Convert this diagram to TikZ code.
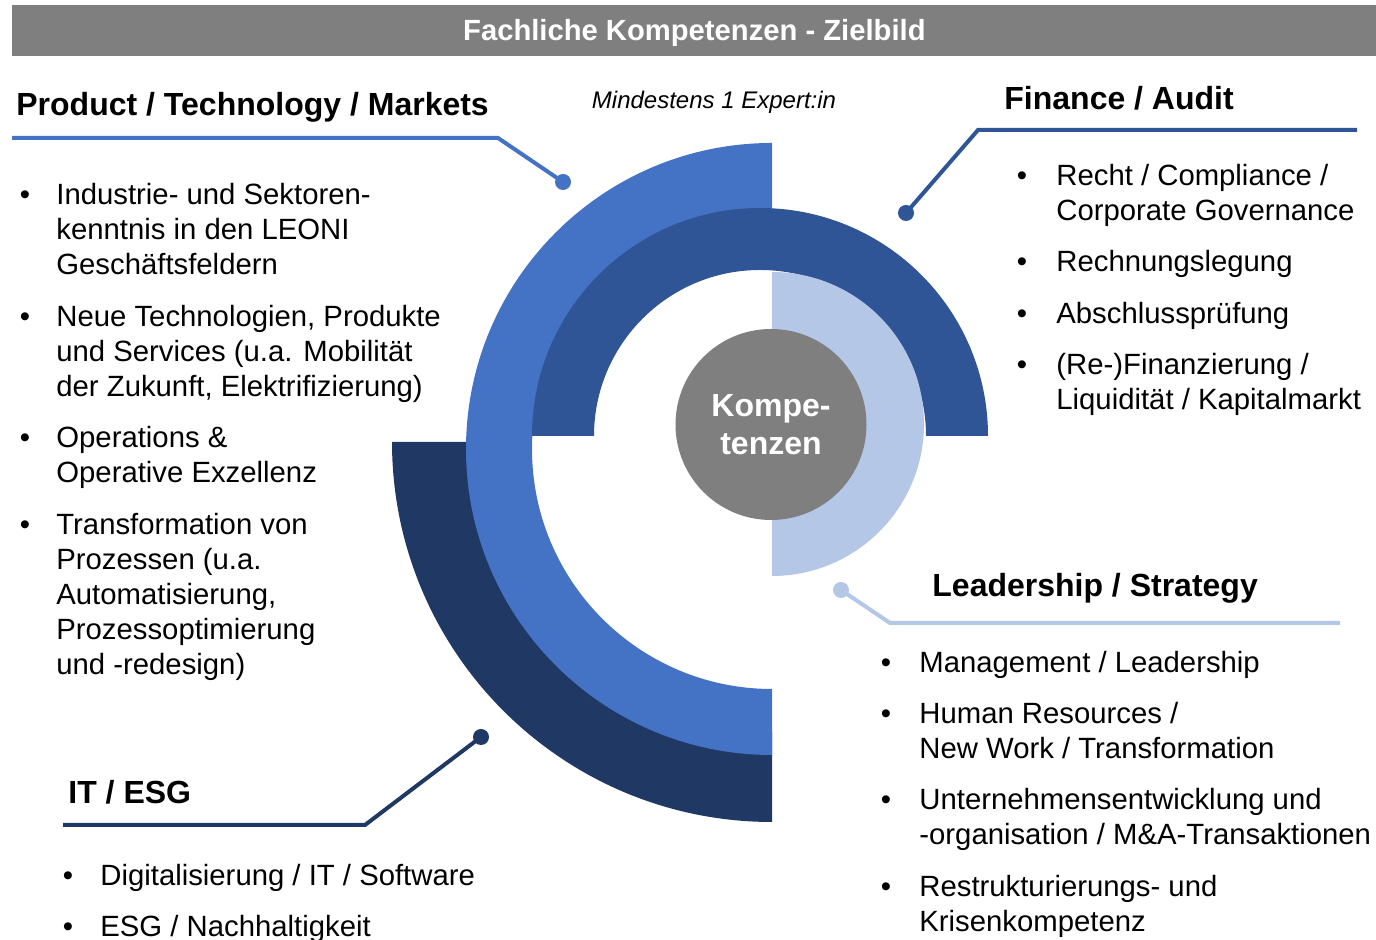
\documentclass[tikz,border=0pt]{standalone}
\usepackage{fontspec}
\setmainfont{Liberation Sans}

\definecolor{ptmblue}{HTML}{4472C4}
\definecolor{finblue}{HTML}{2F5597}
\definecolor{leadblue}{HTML}{B4C7E7}
\definecolor{itblue}{HTML}{203864}
\definecolor{bargrey}{HTML}{7F7F7F}

\tikzset{
	heading/.style={anchor=base west, inner sep=0pt, font=\fontsize{16}{19}\selectfont\bfseries},
	% multi-line items sit on the baseline of their last line
	item/.style={anchor=base west, inner sep=0pt, align=left, font=\fontsize{14.65}{17.5}\selectfont},
	bul/.style={anchor=base, inner sep=0pt, font=\fontsize{14.65}{17.5}\selectfont},
	leader/.style={line width=2pt},
	pin/.style={circle, fill, inner sep=0pt, minimum size=8pt}
}

\begin{document}
\begin{tikzpicture}[x=0.5pt, y=0.5pt]
		\useasboundingbox (0,0) rectangle (1376,940);
		
		% Title bar
		\node[fill=bargrey, anchor=south west, inner sep=0pt, minimum width=682pt, minimum height=25.5pt,
			text depth=0pt, text=white, font=\fontsize{14.6}{17}\selectfont\bfseries] (title) at (12,884) {Fachliche Kompetenzen - Zielbild};
		\node[anchor=base, font=\fontsize{12}{14}\selectfont\itshape] (min) at (714,831) {Mindestens 1 Expert:in};
		
		% Rings
		\fill[itblue] (772,498) ++(180:380) arc[start angle=180, end angle=270, radius=380]
			-- ++(0,90) arc[start angle=270, end angle=180, radius=290] -- cycle;
		\fill[ptmblue] (772,491) ++(90:306) arc[start angle=90, end angle=270, radius=306]
			-- ++(0,66) arc[start angle=270, end angle=90, radius=240] -- cycle;
		\fill[finblue] (760,504) ++(0:228) arc[start angle=0, end angle=180, radius=228]
			-- ++(62,0) arc[start angle=180, end angle=0, radius=166] -- cycle;
		\fill[leadblue] (772,516) ++(90:152) arc[start angle=90, end angle=-90, radius=152] -- cycle;
		\node[circle, fill=bargrey, minimum size=95.5pt, inner sep=0pt, align=center, text=white,
			font=\fontsize{16}{19}\selectfont\bfseries] (core) at (771,515.5) {Kompe-\\tenzen};
		
		% Product / Technology / Markets
		\node[heading] (ptm) at (16,824) {Product / Technology / Markets};
		\node[pin, ptmblue] (ptmdot) at (563,758) {};
		\coordinate (ptmk) at (498,802);
		\coordinate (ptme) at (12,802);
		\draw[leader, ptmblue] (ptmdot.center) -- (ptmk) -- (ptme);
		\node[bul] (b1) at (25,735) {•};
		\node[item] (p1) at (56,665) {Industrie- und Sektoren-\\kenntnis in den LEONI\\Geschäftsfeldern};
		\node[bul] (b2) at (25,613) {•};
		\node[item] (p2) at (56,543) {Neue Technologien, Produkte\\und Services (u.a. Mobilität\\der Zukunft, Elektrifizierung)};
		\node[bul] (b3) at (25,492) {•};
		\node[item] (p3) at (56,457) {Operations \&\\Operative Exzellenz};
		\node[bul] (b4) at (25,405) {•};
		\node[item] (p4) at (56,265) {Transformation von\\Prozessen (u.a.\\Automatisierung,\\Prozessoptimierung\\und -redesign)};
		
		% Finance / Audit
		\node[heading] (fin) at (1004,830) {Finance / Audit};
		\node[pin, finblue] (findot) at (906,727) {};
		\coordinate (fink) at (978,810);
		\coordinate (fine) at (1357,810);
		\draw[leader, finblue] (findot.center) -- (fink) -- (fine);
		\node[bul] (b5) at (1022,754) {•};
		\node[item] (f1) at (1056,719) {Recht / Compliance /\\Corporate Governance};
		\node[bul] (b6) at (1022,668) {•};
		\node[item] (f2) at (1056,668) {Rechnungslegung};
		\node[bul] (b7) at (1022,616) {•};
		\node[item] (f3) at (1056,616) {Abschlussprüfung};
		\node[bul] (b8) at (1022,565) {•};
		\node[item] (f4) at (1056,530) {(Re-)Finanzierung /\\Liquidität / Kapitalmarkt};
		
		% Leadership / Strategy
		\node[heading] (lead) at (932,343) {Leadership / Strategy};
		\node[pin, leadblue] (leaddot) at (841,350) {};
		\coordinate (leadk) at (890,317);
		\coordinate (leade) at (1340,317);
		\draw[leader, leadblue] (leaddot.center) -- (leadk) -- (leade);
		\node[bul] (b9) at (886,267) {•};
		\node[item] (l1) at (919,267) {Management / Leadership};
		\node[bul] (b10) at (886,216) {•};
		\node[item] (l2) at (919,181) {Human Resources /\\New Work / Transformation};
		\node[bul] (b11) at (886,130) {•};
		\node[item] (l3) at (919,95) {Unternehmensentwicklung und\\-organisation / M\&A-Transaktionen};
		\node[bul] (b12) at (886,43) {•};
		\node[item] (l4) at (919,8) {Restrukturierungs- und\\Krisenkompetenz};
		
		% IT / ESG
		\node[heading] (it) at (68,136) {IT / ESG};
		\node[pin, itblue] (itdot) at (481,203) {};
		\coordinate (itk) at (365,115);
		\coordinate (ite) at (63,115);
		\draw[leader, itblue] (itdot.center) -- (itk) -- (ite);
		\node[bul] (b13) at (68,54) {•};
		\node[item] (i1) at (100,54) {Digitalisierung / IT / Software};
		\node[bul] (b14) at (68,3) {•};
		\node[item] (i2) at (100,3) {ESG / Nachhaltigkeit};
	\end{tikzpicture}
\end{document}
